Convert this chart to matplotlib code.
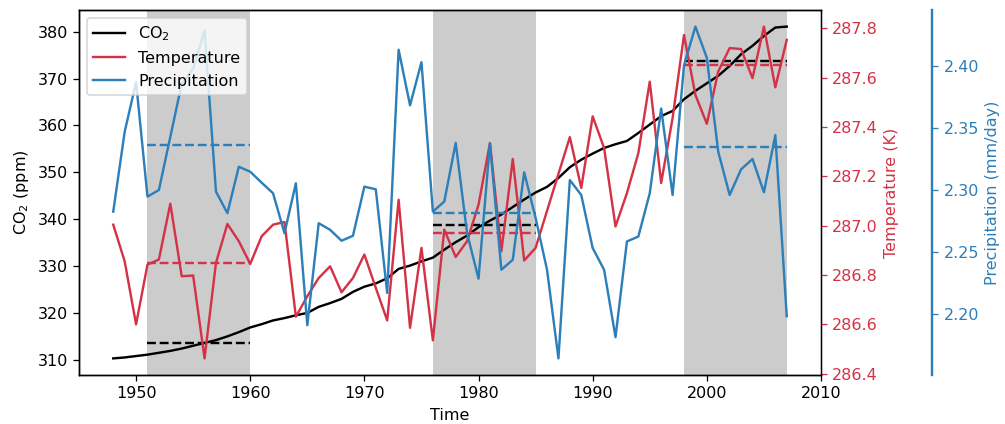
import numpy as np
import matplotlib.pyplot as plt

# dados anuais
anos = np.arange(1948, 2008)

co2 = [310.3, 310.5, 310.8, 311.1, 311.5, 311.9, 312.4, 313.0, 313.6, 314.2,
       315.0, 315.9, 316.9, 317.6, 318.4, 318.9, 319.5, 320.0, 321.3, 322.1,
       323.0, 324.5, 325.6, 326.3, 327.4, 329.4, 330.1, 331.0, 331.8, 333.5,
       335.1, 336.5, 338.3, 339.7, 341.0, 342.6, 344.2, 345.7, 346.9, 348.8,
       351.1, 352.7, 354.0, 355.2, 356.0, 356.7, 358.4, 360.2, 362.0, 363.1,
       365.6, 367.4, 369.0, 370.6, 372.7, 375.2, 377.0, 379.1, 380.9, 381.1]

temperatura = [287.004, 286.856, 286.600, 286.842, 286.863, 287.089, 286.795, 286.798, 286.462, 286.849,
               287.007, 286.937, 286.845, 286.957, 287.004, 287.015, 286.631, 286.714, 286.788, 286.835,
               286.730, 286.788, 286.883, 286.748, 286.616, 287.105, 286.586, 286.910, 286.535, 286.984,
               286.873, 286.937, 287.085, 287.335, 286.896, 287.270, 286.859, 286.910, 287.060, 287.210,
               287.359, 287.153, 287.443, 287.315, 286.997, 287.132, 287.294, 287.584, 287.173, 287.436,
               287.773, 287.530, 287.413, 287.625, 287.720, 287.716, 287.598, 287.807, 287.561, 287.753]

precipitacao = [2.2825, 2.3466, 2.3867, 2.2946, 2.2999, 2.3426, 2.3854, 2.3974, 2.4281, 2.2986,
                2.2813, 2.3186, 2.3146, 2.3058, 2.2973, 2.2652, 2.3053, 2.1912, 2.2732, 2.2679,
                2.2591, 2.2631, 2.3026, 2.3005, 2.2171, 2.4127, 2.3680, 2.4027, 2.2825, 2.2906,
                2.3378, 2.2650, 2.2286, 2.3373, 2.2358, 2.2438, 2.3141, 2.2775, 2.2358, 2.1645,
                2.3079, 2.2959, 2.2532, 2.2358, 2.1816, 2.2585, 2.2625, 2.2973, 2.3654, 2.2959,
                2.4001, 2.4313, 2.4062, 2.3306, 2.2959, 2.3165, 2.3248, 2.2981, 2.3440, 2.1984]

# periodos destacados
periodos = [(1951, 1960), (1976, 1985), (1998, 2007)]

cor_temp = '#d43246'
cor_prec = '#2c7fb8'

co2 = np.array(co2)
temperatura = np.array(temperatura)
precipitacao = np.array(precipitacao)

fig = plt.figure(figsize=(1005 / 115, 424 / 115), dpi=115)
ax1 = fig.add_axes([0.0786, 0.1156, 0.7383, 0.8608])
ax2 = ax1.twinx()
ax3 = ax1.twinx()
ax3.spines['right'].set_position(('axes', 1.15))

for inicio, fim in periodos:
    ax1.axvspan(inicio, fim, color='0.8', lw=0)

l1, = ax1.plot(anos, co2, color='black', lw=1.5, label='CO$_2$')
l2, = ax2.plot(anos, temperatura, color=cor_temp, lw=1.5, label='Temperature')
l3, = ax3.plot(anos, precipitacao, color=cor_prec, lw=1.5, label='Precipitation')

# medias de cada periodo (linhas tracejadas)
for inicio, fim in periodos:
    m = (anos >= inicio) & (anos <= fim)
    ax1.hlines(co2[m].mean(), inicio, fim, colors='black', linestyles='--', lw=1.5)
    ax2.hlines(temperatura[m].mean(), inicio, fim, colors=cor_temp, linestyles='--', lw=1.5)
    ax3.hlines(precipitacao[m].mean(), inicio, fim, colors=cor_prec, linestyles='--', lw=1.5)

ax1.set_xlim(1945, 2010)
ax1.set_xlabel('Time')
ax1.set_ylabel('CO$_2$ (ppm)')

ax2.set_ylabel('Temperature (K)', color=cor_temp)
ax2.tick_params(axis='y', colors=cor_temp)

ax3.set_ylabel('Precipitation (mm/day)', color=cor_prec)
ax3.tick_params(axis='y', colors=cor_prec)
ax3.spines['right'].set_color(cor_prec)
ax3.spines['right'].set_linewidth(1.5)

ax3.legend(handles=[l1, l2, l3], loc='upper left')

fig.savefig('out.png', dpi=115)
